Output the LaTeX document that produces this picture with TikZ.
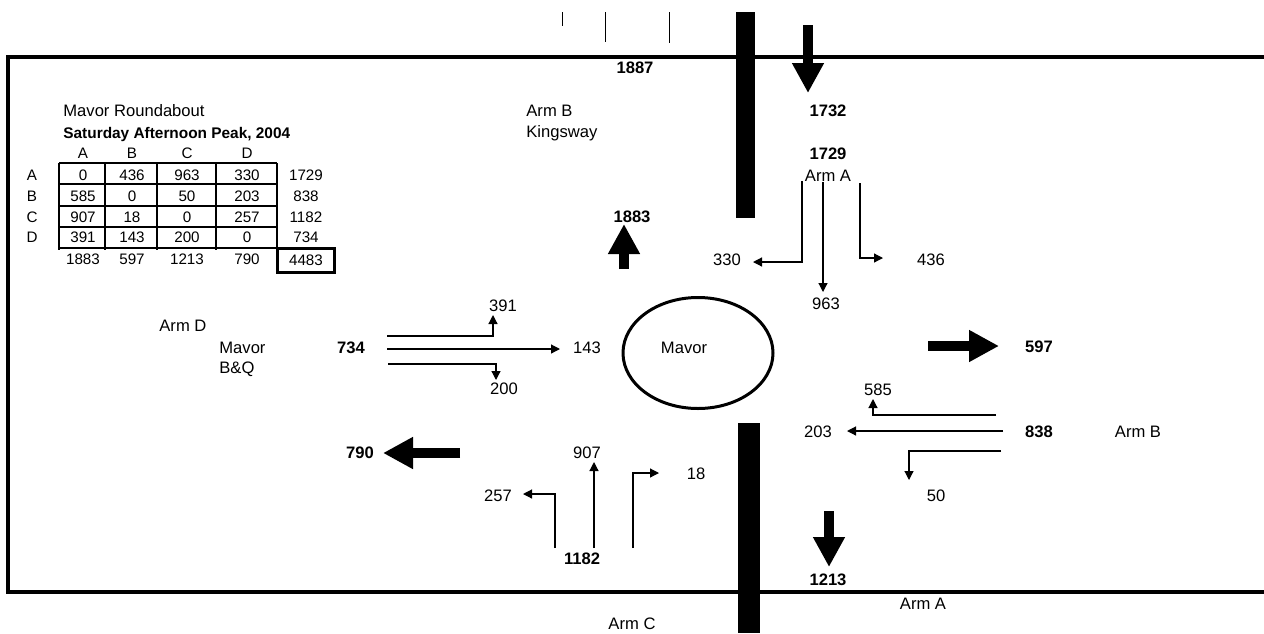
\documentclass[tikz,border=0pt]{standalone}
\usepackage{fontspec}
\setmainfont{Liberation Sans}
\usetikzlibrary{arrows.meta, positioning, shapes.geometric}

\begin{document}
\begin{tikzpicture}[
        x=0.5pt, y=-0.5pt,
        lbl/.style={inner sep=0pt, font=\fontsize{8.3}{10}\selectfont, text height=6pt, text depth=0pt},
        num/.style={lbl, font=\fontsize{8.3}{10}\selectfont\bfseries},
        tab/.style={inner sep=0pt, font=\fontsize{7.6}{9}\selectfont, text height=5.4pt, text depth=0pt},
        flow/.style={-{Triangle[length=4.5pt, width=4.5pt]}, line width=0.6pt},
        bigflow/.style={-{Triangle[length=15pt, width=15pt]}, line width=5pt},
        tabline/.style={line width=1pt}
    ]
        \useasboundingbox (0,0) rectangle (1264,633);

        % Frame, island bars and ticks
        \draw[line width=2pt] (1264,57) -| (8,592) -- (1264,592);
        \fill (736,12) rectangle (755,218);
        \fill (738,423) rectangle (760,633);
        \foreach \x/\yb in {562/26, 605/42, 669/43}
            \draw[line width=0.5pt] (\x,12) -- (\x,\yb);

        % Count table
        \node[lbl, anchor=west] (title) at (63,110) {Mavor Roundabout};
        \node[lbl, anchor=west, font=\fontsize{7.7}{9}\selectfont\bfseries] (period) at (63,132) {Saturday Afternoon Peak, 2004};
        \foreach \c/\x in {A/83, B/132, C/187, D/247}
            \node[tab] (head\c) at (\x,153) {\c};
        \foreach \r/\y/\a/\b/\c/\d/\t in {A/175/0/436/963/330/1729, B/196/585/0/50/203/838,
                C/217/907/18/0/257/1182, D/237/391/143/200/0/734} {
            \node[tab] (row\r) at (32,\y) {\r};
            \node[tab] (cell\r A) at (83,\y) {\a};
            \node[tab] (cell\r B) at (132,\y) {\b};
            \node[tab] (cell\r C) at (187,\y) {\c};
            \node[tab] (cell\r D) at (247,\y) {\d};
            \node[tab] (sum\r) at (306,\y) {\t};
        }
        \foreach \c/\x/\t in {A/83/1883, B/132/597, C/187/1213, D/247/790}
            \node[tab] (out\c) at (\x,259) {\t};
        \node[tab] (grand) at (306,260) {4483};
        \foreach \x in {59, 105, 157, 216, 277}
            \draw[tabline] (\x,163) -- (\x,250);
        \foreach \y in {163, 184, 206, 227, 248}
            \draw[tabline] (59,\y) -- (277,\y);
        \draw[line width=1.5pt] (277,248) rectangle (334,272);

        % Roundabout
        \node[ellipse, draw, line width=1.5pt, minimum width=75pt, minimum height=55.5pt, inner sep=0pt] (rbt) at (698,353) {};
        \node[lbl] (rbtname) at (684,347) {Mavor};

        % Arm A
        \node[num] (inA1887) at (635,67) {1887};
        \node[num] (inA1732) at (828,110) {1732};
        \node[num] (inA) at (828,153) {1729};
        \node[lbl] (armA) at (828,175) {Arm A};
        \node[lbl, anchor=west] (armBtop) at (526,110) {Arm B};
        \node[lbl, anchor=west] (kingsway) at (526,131) {Kingsway};
        \node[lbl] (aD) at (727,259) {330};
        \node[lbl] (aC) at (826,303) {963};
        \node[lbl] (aB) at (931,259) {436};
        \node[num] (outA) at (632,216) {1883};
        \node[num] (outC) at (828,579) {1213};
        \node[lbl] (armAbot) at (923,603) {Arm A};

        % Arm B
        \node[num] (outB) at (1039,346) {597};
        \node[num] (inB) at (1039,431) {838};
        \node[lbl] (armB) at (1138,431) {Arm B};
        \node[lbl] (bA) at (878,389) {585};
        \node[lbl] (bD) at (818,431) {203};
        \node[lbl] (bC) at (936,495) {50};

        % Arm C
        \node[num] (inC) at (582,558) {1182};
        \node[lbl] (armC) at (632,623) {Arm C};
        \node[lbl] (cA) at (587,452) {907};
        \node[lbl] (cD) at (498,495) {257};
        \node[lbl] (cB) at (696,473) {18};

        % Arm D
        \node[lbl, anchor=west] (armD) at (159,325) {Arm D};
        \node[lbl, anchor=west] (armDname) at (219,347) {Mavor};
        \node[lbl, anchor=west] (armDshop) at (219,367) {B\&Q};
        \node[num] (inD) at (351,347) {734};
        \node[num] (outD) at (360,452) {790};
        \node[lbl] (dA) at (503,305) {391};
        \node[lbl] (dB) at (587,347) {143};
        \node[lbl] (dC) at (504,388) {200};

        % Turning points
        \coordinate (aD-s) at (802,181);  \coordinate (aD-e) at (753,262);
        \coordinate (aC-s) at (823,182);  \coordinate (aC-e) at (823,292);
        \coordinate (aB-s) at (860,183);  \coordinate (aB-e) at (883,258);
        \coordinate (bA-s) at (996,415);  \coordinate (bA-e) at (873,399);
        \coordinate (bD-s) at (1003,431); \coordinate (bD-e) at (847,431);
        \coordinate (bC-s) at (1001,451); \coordinate (bC-e) at (909,480);
        \coordinate (cD-s) at (555,548);  \coordinate (cD-e) at (523,494);
        \coordinate (cA-s) at (594,548);  \coordinate (cA-e) at (594,462);
        \coordinate (cB-s) at (633,548);  \coordinate (cB-e) at (659,473);
        \coordinate (dA-s) at (387,336);  \coordinate (dA-e) at (493,315);
        \coordinate (dB-s) at (387,349);  \coordinate (dB-e) at (560,349);
        \coordinate (dC-s) at (388,364);  \coordinate (dC-e) at (496,380);

        % Turning flows
        \draw[flow] (aD-s) |- (aD-e);
        \draw[flow] (aC-s) -- (aC-e);
        \draw[flow] (aB-s) |- (aB-e);
        \draw[flow] (bA-s) -| (bA-e);
        \draw[flow] (bD-s) -- (bD-e);
        \draw[flow] (bC-s) -| (bC-e);
        \draw[flow] (cD-s) |- (cD-e);
        \draw[flow] (cA-s) -- (cA-e);
        \draw[flow] (cB-s) |- (cB-e);
        \draw[flow] (dA-s) -| (dA-e);
        \draw[flow] (dB-s) -- (dB-e);
        \draw[flow] (dC-s) -| (dC-e);

        % Arm totals
        \coordinate (inA-s) at (808,25);   \coordinate (inA-e) at (808,93);
        \coordinate (outA-s) at (624,269); \coordinate (outA-e) at (624,224);
        \coordinate (outB-s) at (928,346); \coordinate (outB-e) at (999,346);
        \coordinate (outC-s) at (829,511); \coordinate (outC-e) at (829,567);
        \coordinate (outD-s) at (460,453); \coordinate (outD-e) at (383,453);
        \draw[bigflow] (inA-s) -- (inA-e);
        \draw[bigflow] (outA-s) -- (outA-e);
        \draw[bigflow] (outB-s) -- (outB-e);
        \draw[bigflow] (outC-s) -- (outC-e);
        \draw[bigflow] (outD-s) -- (outD-e);

    \end{tikzpicture}
\end{document}
